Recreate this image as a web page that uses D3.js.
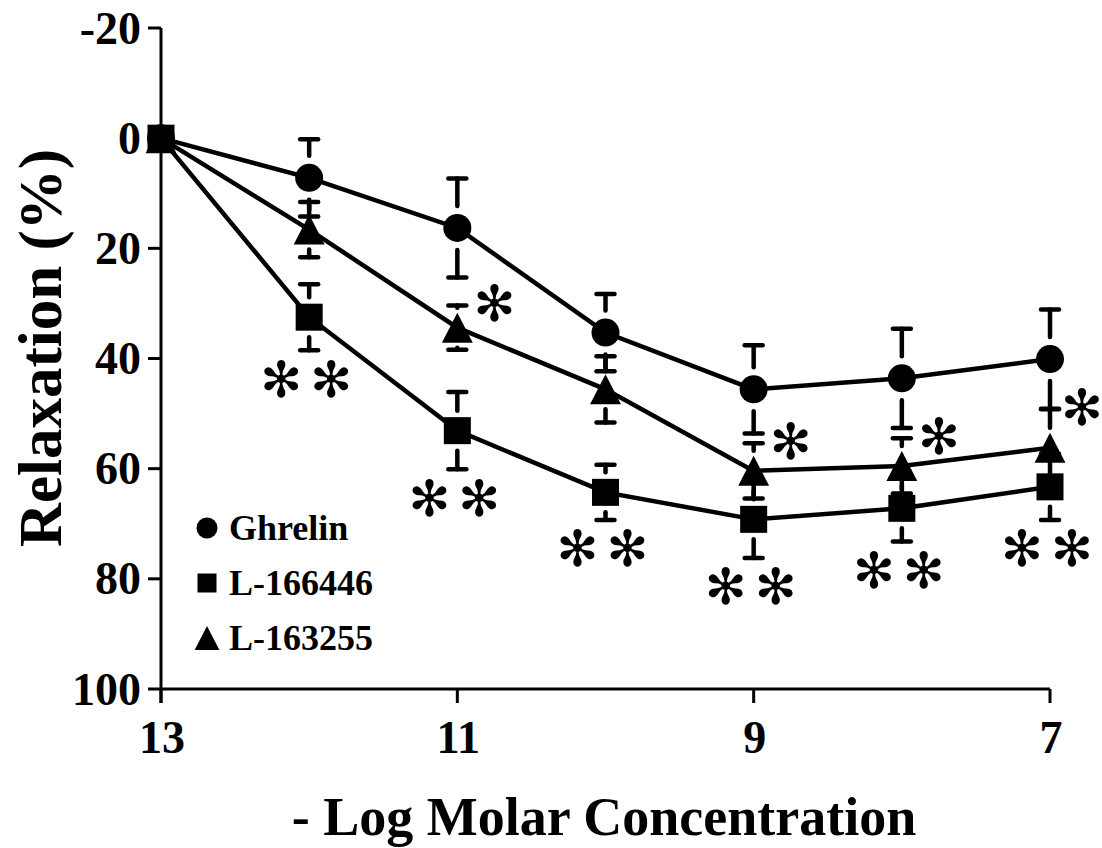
<!DOCTYPE html>
<html>
<head>
<meta charset="utf-8">
<script src="https://cdn.jsdelivr.net/npm/d3@7"></script>
<style>
  html, body { margin: 0; padding: 0; background: #fff; }
  svg { display: block; }
  text { font-family: "Liberation Serif", "Times New Roman", serif; font-weight: bold; fill: #000; }
  text.sig { font-family: "DejaVu Sans", sans-serif; font-weight: normal; }
</style>
</head>
<body>
<script>
// -log molar concentration of each dose
const concentrations = [13, 12, 11, 10, 9, 8, 7];

// mean relaxation (%) and error for each agonist
const ghrelin      = [0, 7.2, 16.3, 35.3, 45.6, 43.6, 40.1];
const ghrelinErr   = [0, 7, 9, 7, 8, 9, 9];
const l166446      = [0, 32.5, 53.1, 64.3, 69.2, 67.2, 63.3];
const l166446Err   = [0, 6, 7, 5, 7, 6, 6];
const l163255      = [0, 16.6, 34.4, 45.6, 60.4, 59.5, 56.2];
const l163255Err   = [0, 5, 4, 6, 5, 5, 7];

// significance marks
const sigL163255 = ["", "", "\u273B", "", "\u273B", "\u273B", "\u273B"];
const sigL166446 = ["", "\u273B\u273B", "\u273B\u273B", "\u273B\u273B", "\u273B\u273B", "\u273B\u273B", "\u273B\u273B"];

const seriesNames = ["Ghrelin", "L-166446", "L-163255"];
const xTicks = [13, 11, 9, 7];
const yTicks = [-20, 0, 20, 40, 60, 80, 100];

const W = 1102, H = 848;
const svg = d3.select("body").append("svg").attr("width", W).attr("height", H);

const x = d3.scaleLinear().domain([13, 7]).range([161, 1050]);
const y = d3.scaleLinear().domain([-20, 100]).range([28, 689]);

// axes
const axisG = svg.append("g");
axisG.append("line").attr("x1", x(13)).attr("x2", x(13))
  .attr("y1", y(-20)).attr("y2", y(100) + 14)
  .attr("stroke", "#000").attr("stroke-width", 3);
axisG.append("line").attr("x1", x(13)).attr("x2", x(7))
  .attr("y1", y(100)).attr("y2", y(100))
  .attr("stroke", "#000").attr("stroke-width", 3);

yTicks.forEach(v => {
  axisG.append("line").attr("x1", x(13) - 13).attr("x2", x(13))
    .attr("y1", y(v)).attr("y2", y(v))
    .attr("stroke", "#000").attr("stroke-width", 3);
  axisG.append("text").attr("x", 141).attr("y", y(v)).attr("dy", "0.34em")
    .attr("text-anchor", "end").attr("font-size", 46).text(v);
});
xTicks.forEach(v => {
  axisG.append("line").attr("x1", x(v)).attr("x2", x(v))
    .attr("y1", y(100)).attr("y2", y(100) + 14)
    .attr("stroke", "#000").attr("stroke-width", 3);
  axisG.append("text").attr("x", x(v) + 1).attr("y", 753)
    .attr("text-anchor", "middle").attr("font-size", 46).text(v);
});

svg.append("text").attr("x", 604).attr("y", 835).attr("text-anchor", "middle")
  .attr("font-size", 54).text("- Log Molar Concentration");
svg.append("text").attr("transform", "translate(61,348) rotate(-90)")
  .attr("text-anchor", "middle").attr("font-size", 61).text("Relaxation (%)");

// marker shapes
const shapes = {
  circle: (g, r) => g.append("circle").attr("r", r),
  square: (g, r) => g.append("rect").attr("x", -r).attr("y", -r).attr("width", 2 * r).attr("height", 2 * r),
  triangle: (g, r) => g.append("path").attr("d", `M0,${-r}L${r * 1.03},${r}L${-r * 1.03},${r}Z`)
};

const series = [
  { name: seriesNames[0], vals: ghrelin, errs: ghrelinErr, shape: "circle", size: 14, gap: 22 },
  { name: seriesNames[2], vals: l163255, errs: l163255Err, shape: "triangle", size: 15, gap: 20 },
  { name: seriesNames[1], vals: l166446, errs: l166446Err, shape: "square", size: 13.5, gap: 20 }
];

// error bars: cap at mean ± err, stem stops short of the marker
const errG = svg.append("g").attr("stroke", "#000").attr("stroke-width", 4.5).attr("stroke-linecap", "round");
series.forEach(s => {
  concentrations.forEach((c, i) => {
    if (!s.errs[i]) return;
    const cx = x(c), cy = y(s.vals[i]);
    [-1, 1].forEach(dir => {
      const capY = y(s.vals[i] + dir * s.errs[i]);
      const endY = cy + dir * s.gap;
      if ((capY - endY) * dir > 0) {
        errG.append("line").attr("x1", cx).attr("x2", cx).attr("y1", capY).attr("y2", endY);
      }
      errG.append("line").attr("x1", cx - 9).attr("x2", cx + 9).attr("y1", capY).attr("y2", capY);
    });
  });
});

// connecting lines
const line = d3.line().x((d, i) => x(concentrations[i])).y(d => y(d));
series.forEach(s => {
  svg.append("path").datum(s.vals).attr("d", line)
    .attr("fill", "none").attr("stroke", "#000").attr("stroke-width", 4.5);
});

// markers
series.forEach(s => {
  concentrations.forEach((c, i) => {
    const g = svg.append("g").attr("transform", `translate(${x(c)},${y(s.vals[i])})`);
    shapes[s.shape](g, s.size).attr("fill", "#000");
  });
});

// significance marks (glyph centre sits ~0.37em above the baseline)
const sigFont = 50, sigLift = 0.37 * sigFont, sigSpacing = 8;
concentrations.forEach((c, i) => {
  if (sigL163255[i]) {
    const capY = y(l163255[i] - l163255Err[i]);
    svg.append("text").attr("class", "sig").attr("x", Math.min(x(c) + 37, W - 20)).attr("y", capY - 3 + sigLift)
      .attr("text-anchor", "middle").attr("font-size", sigFont).text(sigL163255[i]);
  }
  if (sigL166446[i]) {
    const capY = y(l166446[i] + l166446Err[i]);
    svg.append("text").attr("class", "sig").attr("x", x(c) - 3 + sigSpacing / 2).attr("y", capY + 28 + sigLift)
      .attr("text-anchor", "middle").attr("letter-spacing", sigSpacing)
      .attr("font-size", sigFont).text(sigL166446[i]);
  }
});

// legend
const legend = [
  { label: seriesNames[0], shape: "circle", size: 10.5 },
  { label: seriesNames[1], shape: "square", size: 9.5 },
  { label: seriesNames[2], shape: "triangle", size: 12 }
];
legend.forEach((d, i) => {
  const ly = 528 + i * 55;
  const g = svg.append("g").attr("transform", `translate(207,${ly})`);
  shapes[d.shape](g, d.size).attr("fill", "#000");
  svg.append("text").attr("x", 229).attr("y", ly + 12).attr("font-size", 36).text(d.label);
});
</script>
</body>
</html>
